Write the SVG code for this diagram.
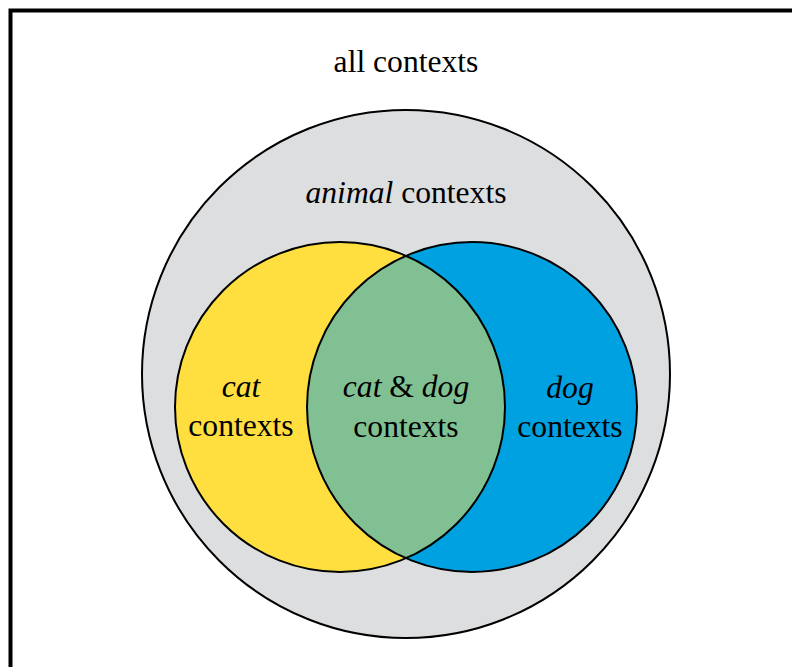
<svg xmlns="http://www.w3.org/2000/svg" width="792" height="667" viewBox="0 0 792 667">
  <defs>
    <style>
      .frame { fill: none; stroke: #000; stroke-width: 4; }
      .set { stroke: #000; stroke-width: 2; }
      .lbl { font-family: "Liberation Serif", "Times New Roman", serif; font-size: 31.6px; fill: #000; text-anchor: middle; }
      .it { font-style: italic; }
    </style>
    <clipPath id="catClip">
      <circle cx="340" cy="407" r="165"/>
    </clipPath>
  </defs>
  <rect width="792" height="667" fill="#fff"/>
  <rect class="frame" x="10.5" y="10.5" width="800" height="700"/>

  <g id="all-contexts">
    <text class="lbl" x="406" y="72">all contexts</text>
  </g>

  <g id="animal-contexts">
    <circle class="set" cx="406" cy="374" r="264" fill="#dddee0"/>
    <text class="lbl" x="406" y="203"><tspan class="it">animal</tspan> contexts</text>
  </g>

  <g id="cat-contexts">
    <circle cx="340" cy="407" r="165" fill="#ffde40"/>
  </g>

  <g id="dog-contexts">
    <circle cx="472" cy="407" r="165" fill="#00a1e1"/>
  </g>

  <g id="cat-dog-contexts">
    <circle cx="472" cy="407" r="165" fill="#80c092" clip-path="url(#catClip)"/>
  </g>

  <g id="outlines">
    <circle class="set" cx="340" cy="407" r="165" fill="none"/>
    <circle class="set" cx="472" cy="407" r="165" fill="none"/>
  </g>

  <g id="labels">
    <text class="lbl it" x="241" y="397">cat</text>
    <text class="lbl" x="241" y="436">contexts</text>
    <text class="lbl" x="406" y="397"><tspan class="it">cat</tspan> &amp; <tspan class="it">dog</tspan></text>
    <text class="lbl" x="406" y="437">contexts</text>
    <text class="lbl it" x="570" y="398">dog</text>
    <text class="lbl" x="570" y="437">contexts</text>
  </g>
</svg>
